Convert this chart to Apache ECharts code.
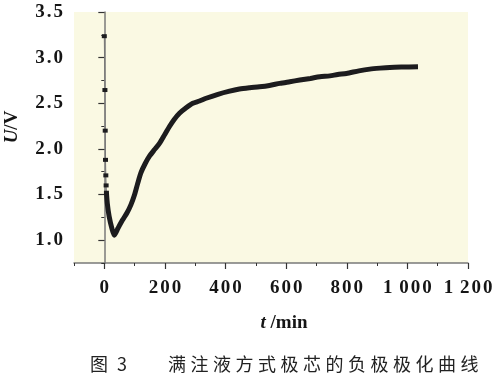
<!DOCTYPE html>
<html>
<head>
<meta charset="utf-8">
<script src="https://cdn.jsdelivr.net/npm/echarts@6/dist/echarts.min.js"></script>
<style>html,body{margin:0;padding:0;background:#fff;}#c{width:499px;height:378px;}</style>
</head>
<body>
<div id="c"></div>
<script>
// Early sparse measurement points (t in min, U in V)
const earlyT = [0, 2, 3, 4, 5, 6, 7];
const earlyU = [3.235, 2.645, 2.20, 1.88, 1.71, 1.60, 1.52];
// Main dense polarization curve
const mainT = [7, 10, 16, 25, 33, 45, 60, 75, 88, 100, 110, 121, 135, 149, 165, 182, 200, 215, 230, 248, 270, 292, 314, 336, 375, 410, 446, 480, 512, 545, 579, 612, 645, 680, 711, 744, 770, 799, 840, 876, 910, 942, 980, 1035];
const mainU = [1.52, 1.40, 1.26, 1.13, 1.055, 1.13, 1.22, 1.30, 1.39, 1.50, 1.62, 1.74, 1.84, 1.92, 1.99, 2.06, 2.16, 2.245, 2.32, 2.39, 2.45, 2.50, 2.525, 2.555, 2.598, 2.63, 2.656, 2.67, 2.68, 2.695, 2.718, 2.736, 2.754, 2.772, 2.79, 2.80, 2.815, 2.827, 2.855, 2.874, 2.885, 2.893, 2.897, 2.90];
const xLabelValues = [0, 200, 400, 600, 800, 1000, 1200];
const yLabelValues = [1.0, 1.5, 2.0, 2.5, 3.0, 3.5];
const xTitle = 't /min';
const yTitle = 'U/V';
const captionNum = '图 3';
const captionText = '满注液方式极芯的负极极化曲线';

const serif = '"Liberation Serif", "Times New Roman", serif';
function spread(s) {
  return s.split('').map(c => c === ' ' ? '{s| }' : '{d|' + c + '}').join('');
}
function fmtX(v) {
  if (v >= 1000) { const s = String(v); return spread(s[0] + ' ' + s.slice(1)); }
  return spread(String(v));
}
function fmtY(v) { return spread(v.toFixed(1)); }
const digitRich = {
  d: { fontFamily: serif, fontWeight: 'bold', fontSize: 19, color: '#151515', padding: [0, 1, 0, 1] },
  s: { fontFamily: serif, fontWeight: 'bold', fontSize: 19, color: '#151515' }
};

const chart = echarts.init(document.getElementById('c'));
const grid = { left: 74, right: 31, top: 12, bottom: 115, show: true, backgroundColor: '#faf9e3', borderWidth: 0 };
const axisColor = '#7a7a7a';
const labelStyle = { fontFamily: serif, fontWeight: 'bold', fontSize: 19, color: '#151515', rich: digitRich };
chart.setOption({
  animation: false,
  grid: grid,
  xAxis: [{
    type: 'value', min: -100, max: 1200, interval: 100,
    axisLine: { show: true, lineStyle: { color: axisColor, width: 1.5 } },
    axisTick: { show: true, customValues: xLabelValues, length: 6, inside: false, lineStyle: { color: '#333', width: 1.2 } },
    axisLabel: Object.assign({ customValues: xLabelValues, formatter: fmtX, margin: 16 }, labelStyle),
    splitLine: { show: false }
  }, {
    type: 'value', min: -100, max: 1200, interval: 100, position: 'bottom', gridIndex: 0,
    axisLine: { show: false },
    axisTick: { show: true, length: 3, lineStyle: { color: '#333', width: 1 } },
    axisLabel: { show: false }, splitLine: { show: false }
  }],
  yAxis: [{
    type: 'value', min: 0.75, max: 3.5, interval: 0.25,
    axisLine: { show: true, lineStyle: { color: axisColor, width: 1.5 } },
    axisTick: { show: true, customValues: yLabelValues, length: 6, lineStyle: { color: '#333', width: 1.2 } },
    axisLabel: Object.assign({ customValues: yLabelValues, formatter: fmtY, margin: 10 }, labelStyle),
    splitLine: { show: false }
  }, {
    type: 'value', min: 0.75, max: 3.5, interval: 0.25, position: 'left', offset: 0,
    axisLine: { show: false },
    axisTick: { show: true, length: 3, lineStyle: { color: '#333', width: 1 } },
    axisLabel: { show: false }, splitLine: { show: false }
  }],
  series: [{
    type: 'line',
    data: mainT.map((t, i) => [t, mainU[i]]),
    showSymbol: false, symbol: 'none', smooth: 0.25,
    lineStyle: { color: '#1c1c1e', width: 5 }, z: 3
  }, {
    type: 'line',
    data: earlyT.map((t, i) => [t, earlyU[i]]),
    symbol: 'rect', symbolSize: [5, 4], showSymbol: true,
    itemStyle: { color: '#1c1c1e' },
    lineStyle: { color: '#777', width: 1 }, z: 4
  }],
  graphic: [{
    type: 'text', x: 12, y: 127, rotation: Math.PI / 2,
    style: {
      text: '{i|U}{n|/V}', align: 'center', verticalAlign: 'middle',
      rich: {
        i: { fontFamily: serif, fontWeight: 'bold', fontStyle: 'italic', fontSize: 19, fill: '#151515' },
        n: { fontFamily: serif, fontWeight: 'bold', fontSize: 19, fill: '#151515' }
      }
    }
  }, {
    type: 'text', x: 284, y: 323,
    style: {
      text: '{i|t}{n| /min}', align: 'center', verticalAlign: 'middle',
      rich: {
        i: { fontFamily: serif, fontWeight: 'bold', fontStyle: 'italic', fontSize: 19, fill: '#151515' },
        n: { fontFamily: serif, fontWeight: 'bold', fontSize: 19, fill: '#151515' }
      }
    }
  }, {
    type: 'text', x: 90, y: 364,
    style: { text: captionNum.replace(' ', '\u2005\u2005'), align: 'left', verticalAlign: 'middle', fontFamily: '"Noto Sans CJK SC", sans-serif', fontSize: 18, fill: '#222' }
  }, {
    type: 'text', x: 168, y: 364,
    style: { text: captionText.split('').join('\u2005'), align: 'left', verticalAlign: 'middle', fontFamily: '"Noto Sans CJK SC", sans-serif', fontSize: 18, fill: '#222' }
  }]
});
</script>
</body>
</html>
